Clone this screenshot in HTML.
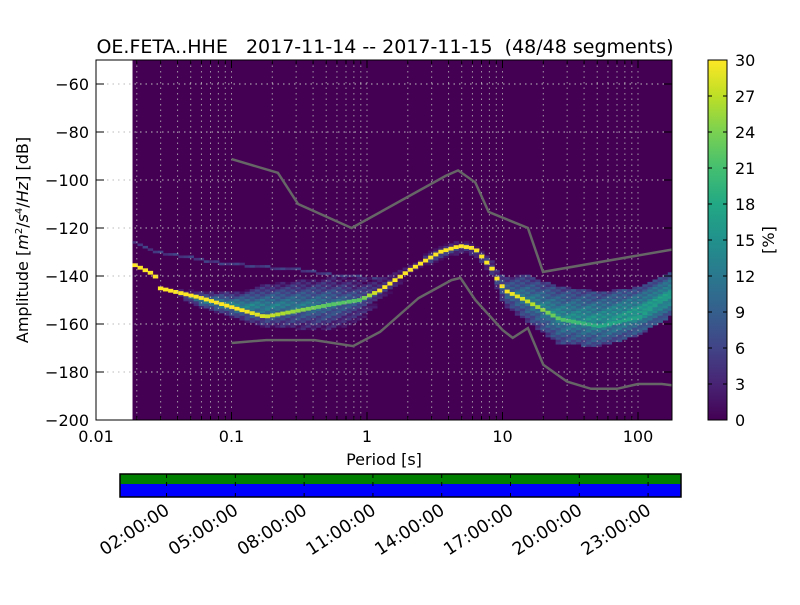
<!DOCTYPE html>
<html><head><meta charset="utf-8"><style>
body{margin:0;background:#fff;font-family:"Liberation Sans","DejaVu Sans",sans-serif}
svg text{font-family:"DejaVu Sans","Liberation Sans",sans-serif}
</style></head><body>
<svg id="fig" width="800" height="600" xmlns="http://www.w3.org/2000/svg">
<defs>
<linearGradient id="vir" x1="0" y1="1" x2="0" y2="0">
<stop offset="0" stop-color="#440154"/><stop offset="0.1" stop-color="#482475"/><stop offset="0.2" stop-color="#414487"/><stop offset="0.3" stop-color="#355f8d"/><stop offset="0.4" stop-color="#2a788e"/><stop offset="0.5" stop-color="#21918c"/><stop offset="0.6" stop-color="#22a884"/><stop offset="0.7" stop-color="#44bf70"/><stop offset="0.8" stop-color="#7ad151"/><stop offset="0.9" stop-color="#bddf26"/><stop offset="1" stop-color="#fde725"/>
</linearGradient>
<clipPath id="axclip"><rect x="96" y="60" width="576" height="360"/></clipPath>
</defs>
<text x="385" y="53" font-size="19" text-anchor="middle" xml:space="preserve">OE.FETA..HHE   2017-11-14 -- 2017-11-15  (48/48 segments)</text>
<rect x="96" y="60" width="576" height="360" fill="#fff"/>
<g id="cells" clip-path="url(#axclip)"></g>
<g id="grid" clip-path="url(#axclip)"></g>
<g id="noise" clip-path="url(#axclip)"></g>
<rect x="96" y="60" width="576" height="360" fill="none" stroke="#000" stroke-width="1"/>
<g id="ticks"></g>
<text x="384" y="465" font-size="16" text-anchor="middle">Period [s]</text>
<text transform="translate(28,240) rotate(-90)" font-size="16" text-anchor="middle">Amplitude [<tspan font-style="italic">m</tspan><tspan font-size="10" dy="-6">2</tspan><tspan dy="6">/</tspan><tspan font-style="italic">s</tspan><tspan font-size="10" dy="-6">4</tspan><tspan dy="6">/</tspan><tspan font-style="italic">Hz</tspan>] [dB]</text>
<rect x="708" y="60" width="19" height="360" fill="url(#vir)" stroke="#000"/>
<g id="cbticks"></g>
<text transform="translate(774,240) rotate(-90)" font-size="16" text-anchor="middle">[%]</text>
<g>
<rect x="120" y="474" width="561" height="10" fill="#008000"/>
<rect x="120" y="484" width="561" height="13" fill="#0000ff"/>
<rect x="120" y="474" width="561" height="23" fill="none" stroke="#000" stroke-width="1.5"/>
</g>
<g id="tl"></g>
</svg>
<script>
const NS="http://www.w3.org/2000/svg";
const nodeLogP=[-1.712,-1.565,-1.535,-1.232,-0.937,-0.753,-0.273,-0.052,0.096,0.317,0.539,0.686,0.797,0.856,0.923,0.959,1.018,1.166,1.424,1.72,2.015,2.25];
const modeDb=[-135.5,-139.6,-145,-149,-154,-157,-152,-150,-146,-137.5,-130,-127.5,-128.5,-132.5,-137,-141,-146,-150,-158,-161,-157,-147];
const modePct=[30,30,30,30,30,28,22,22,30,30,30,30,30,30,30,30,30,28,22,18,17,16];
const spreadLo=[-136,-140,-146,-153,-158,-161,-162,-159,-151,-140,-133,-130,-131,-135,-140,-145,-152,-158,-168,-169,-164,-156];
const spreadHi=[-135,-139,-144,-147,-147,-144,-141,-141,-141,-135,-128,-126,-127,-130,-134,-138,-141,-140,-145,-147,-145,-139];
const spreadPct=[0,0,0,17,18,17,15,12,10,7,6,6,6,6,7,8,10,12,14,15,16,17];
const branchLogP=[-1.712,-1.55,-1.083,-0.494,-0.2,0.096];
const branchDb=[-126,-130,-134.6,-137.5,-140,-141];
const nhnmP=[0.1,0.22,0.31,0.77,3.8,4.7,6.3,7.9,15.4,19.9,178];
const nhnmDb=[-91.3,-97,-110,-120,-98.3,-96,-101,-113.3,-120,-138.3,-129];
const nlnmP=[0.1,0.18,0.41,0.79,1.25,2.4,4.2,4.9,6.3,10,11.9,15.4,20,30,45,70,100,150,178];
const nlnmDb=[-167.9,-166.7,-166.7,-169.2,-163.3,-149.2,-141.7,-140.8,-150,-162.5,-165.8,-161.7,-177,-184,-187,-187,-185,-185,-185.5];
const yTicks=[-60,-80,-100,-120,-140,-160,-180,-200];
const xTickP=[0.01,0.1,1,10,100];
const xTickLabels=["0.01","0.1","1","10","100"];
const cbTicks=[0,3,6,9,12,15,18,21,24,27,30];
const timeLabels=["02:00:00","05:00:00","08:00:00","11:00:00","14:00:00","17:00:00","20:00:00","23:00:00"];
const timeHours=[2,5,8,11,14,17,20,23];

const X=lp=>96+(lp+2)*135.5;
const Y=db=>84+(-60-db)*2.4;
const T=h=>120.7+h*22.93;
function interp(xs,ys,x){if(x<=xs[0])return ys[0];for(let i=1;i<xs.length;i++){if(x<=xs[i]){const t=(x-xs[i-1])/(xs[i]-xs[i-1]);return ys[i-1]+t*(ys[i]-ys[i-1]);}}return ys[ys.length-1];}
const vs=[[68,1,84],[72,36,117],[65,68,135],[53,95,141],[42,120,142],[33,145,140],[34,168,132],[68,191,112],[122,209,81],[189,223,38],[253,231,37]];
function vir(p){let t=Math.max(0,Math.min(1,p/30))*10;let i=Math.min(9,Math.floor(t));let f=t-i;const a=vs[i],b=vs[i+1];return `rgb(${Math.round(a[0]+f*(b[0]-a[0]))},${Math.round(a[1]+f*(b[1]-a[1]))},${Math.round(a[2]+f*(b[2]-a[2]))})`;}
function mk(tag,attrs,parent){const e=document.createElementNS(NS,tag);for(const k in attrs)e.setAttribute(k,attrs[k]);parent.appendChild(e);return e;}

const cells=document.getElementById('cells');
const bg=mk('rect',{x:X(-1.712)-2.5,y:60,width:700,height:360,fill:vir(0)},cells);


const step=0.03763;
let col=0;
for(let lp=-1.712;lp<2.3;lp+=step,col++){
  const x0=X(lp)-2.6,w=5.4;
  const bd=lp<=0.1?interp(branchLogP,branchDb,lp):NaN;
  if(!isNaN(bd)){const r=mk('rect',{x:x0,y:Y(Math.round(bd))-1.3,width:w,height:2.6,fill:vir(4+(col%3))},cells);
    
    }
  const lo=interp(nodeLogP,spreadLo,lp),hi=interp(nodeLogP,spreadHi,lp),sp=interp(nodeLogP,spreadPct,lp);
  if(sp>0.5){const c=(lo+hi)/2,hw=Math.max(1,(hi-lo)/2);
    for(let db=Math.round(lo);db<=Math.round(hi);db++){
      const d=Math.abs(db-c)/hw;const p=sp*(1-0.6*d)+((col*7+db*3)%5)-2;
      if(p<=0.5)continue;
      const r=mk('rect',{x:x0,y:Y(db)-1.3,width:w,height:2.6,fill:vir(p)},cells);
      
      }}
  const m=interp(nodeLogP,modeDb,lp),mp=interp(nodeLogP,modePct,lp);
  const r=mk('rect',{x:x0,y:Y(m)-1.9,width:w,height:3.8,fill:vir(mp)},cells);
  
  
}
const grid=document.getElementById('grid');
for(let d=-2;d<=2;d++)for(let k=1;k<=9;k++){const lp=d+Math.log10(k);if(lp<=-2||lp>2.26)continue;
  mk('line',{x1:X(lp),x2:X(lp),y1:60,y2:420,stroke:'#bbb','stroke-dasharray':'1.5,4','stroke-width':1,opacity:0.8},grid);}
yTicks.forEach(v=>mk('line',{x1:96,x2:672,y1:Y(v),y2:Y(v),stroke:'#bbb','stroke-dasharray':'1.5,4'},grid));
const noise=document.getElementById('noise');
function poly(ps,ds,name){const pts=ps.map((p,i)=>X(Math.log10(p)).toFixed(1)+','+Y(ds[i]).toFixed(1)).join(' ');
  const e=mk('polyline',{points:pts,fill:'none',stroke:'#666','stroke-width':2.5},noise);
  
  }
poly(nhnmP,nhnmDb,'nhnm-line');poly(nlnmP,nlnmDb,'nlnm-line');
const tk=document.getElementById('ticks');
yTicks.forEach(v=>{const y=Y(v);mk('line',{x1:96,x2:104,y1:y,y2:y,stroke:'#000'},tk);mk('line',{x1:664,x2:672,y1:y,y2:y,stroke:'#000'},tk);
  const t=mk('text',{x:89,y:y+6,'font-size':16,'text-anchor':'end'},tk);t.textContent=String(v).replace('-','\u2212');
  
  });
for(let d=-2;d<=2;d++)for(let k=1;k<=9;k++){const lp=d+Math.log10(k);if(lp<-2||lp>2.26)continue;const x=X(lp),L=k==1?8:4;
  mk('line',{x1:x,x2:x,y1:420,y2:420-L,stroke:'#000'},tk);mk('line',{x1:x,x2:x,y1:60,y2:60+L,stroke:'#000'},tk);}
xTickP.forEach((p,i)=>{const t=mk('text',{x:X(Math.log10(p)),y:442,'font-size':16,'text-anchor':'middle'},tk);t.textContent=xTickLabels[i];
  
  });
const cb=document.getElementById('cbticks');
cbTicks.forEach(v=>{const y=420-v*12;mk('line',{x1:708,x2:712,y1:y,y2:y,stroke:'#000'},cb);mk('line',{x1:723,x2:727,y1:y,y2:y,stroke:'#000'},cb);
  const t=mk('text',{x:735,y:y+6,'font-size':16},cb);t.textContent=v;
  
  });
const tl=document.getElementById('tl');
timeHours.forEach((h,i)=>{const x=T(h);mk('line',{x1:x,x2:x,y1:474,y2:478,stroke:'#000'},tl);mk('line',{x1:x,x2:x,y1:493,y2:497,stroke:'#000'},tl);
  mk('line',{x1:x,x2:x,y1:482,y2:486,stroke:'#000'},tl);
  const t=mk('text',{x:0,y:0,'font-size':17.5,'text-anchor':'end',transform:`translate(${x+4},${513}) rotate(-33)`},tl);t.textContent=timeLabels[i];
  
  });
</script>
</body></html>
